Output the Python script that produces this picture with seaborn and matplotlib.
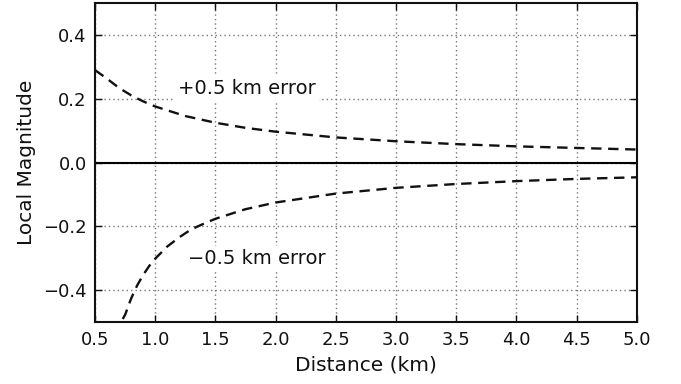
import matplotlib
matplotlib.use("Agg")
import matplotlib.pyplot as plt
import seaborn as sns
import pandas as pd

# Data
dist_plus = [0.5, 0.6, 0.7, 0.8, 0.9, 1.0, 1.25, 1.5, 1.75, 2.0, 2.5, 3.0, 3.5, 4.0, 4.5, 5.0]
mag_plus = [0.29, 0.263, 0.234, 0.211, 0.192, 0.176, 0.146, 0.125, 0.109, 0.097, 0.079, 0.067, 0.058, 0.051, 0.046, 0.041]

dist_minus = [0.73, 0.75, 0.8, 0.85, 0.9, 0.95, 1.0, 1.1, 1.2, 1.3, 1.4, 1.5, 1.75, 2.0, 2.5, 3.0, 3.5, 4.0, 4.5, 5.0]
mag_minus = [-0.49, -0.477, -0.426, -0.385, -0.352, -0.324, -0.301, -0.263, -0.234, -0.209, -0.192, -0.176, -0.146, -0.125, -0.097, -0.079, -0.067, -0.058, -0.051, -0.046]

label_plus = "+0.5 km error"
label_minus = "\u22120.5 km error"
x_ticks = [0.5, 1.0, 1.5, 2.0, 2.5, 3.0, 3.5, 4.0, 4.5, 5.0]
y_ticks = [-0.4, -0.2, 0.0, 0.2, 0.4]

sns.set_theme(style="ticks")
plt.rcParams["font.family"] = ["DejaVu Sans"]

fig = plt.figure(figsize=(6.81, 3.84), dpi=100)
ax = fig.add_axes([0.1395, 0.161, 0.7955, 0.831])

df_p = pd.DataFrame({"d": dist_plus, "m": mag_plus})
df_m = pd.DataFrame({"d": dist_minus, "m": mag_minus})

ax.grid(True, color="#777777", linestyle=(0, (1, 2.2)), linewidth=1.0, zorder=0)
ax.axhline(0, color="black", linewidth=1.5, zorder=2)

sns.lineplot(data=df_p, x="d", y="m", ax=ax, color="#111111", linewidth=1.7, zorder=3)
sns.lineplot(data=df_m, x="d", y="m", ax=ax, color="#111111", linewidth=1.7, zorder=3)
for ln in ax.lines[-2:]:
    ln.set_dashes((4.4, 2.8))

ax.text(1.19, 0.232, label_plus, fontsize=14, va="center", ha="left", zorder=4, color="#111111",
        bbox=dict(facecolor="white", edgecolor="none", pad=2))
ax.text(1.27, -0.30, label_minus, fontsize=14, va="center", ha="left", zorder=4, color="#111111",
        bbox=dict(facecolor="white", edgecolor="none", pad=2))

ax.set_xlim(0.5, 5.0)
ax.set_ylim(-0.5, 0.5)
ax.set_xticks(x_ticks)
ax.set_yticks(y_ticks)
ax.set_xticklabels([f"{v:.1f}" for v in x_ticks])
ax.set_yticklabels([f"{v:.1f}".replace("-", "\u2212") for v in y_ticks])
ax.tick_params(direction="in", length=5, width=1, top=True, right=True,
               labelsize=13, colors="#111111", pad=6)
ax.set_xlabel("Distance (km)", fontsize=14.5, labelpad=5, color="#111111")
ax.set_ylabel("Local Magnitude", fontsize=14.5, labelpad=5, color="#111111")
for s in ax.spines.values():
    s.set_linewidth(1.5)
    s.set_color("#111111")

fig.savefig("out.png", dpi=100)
